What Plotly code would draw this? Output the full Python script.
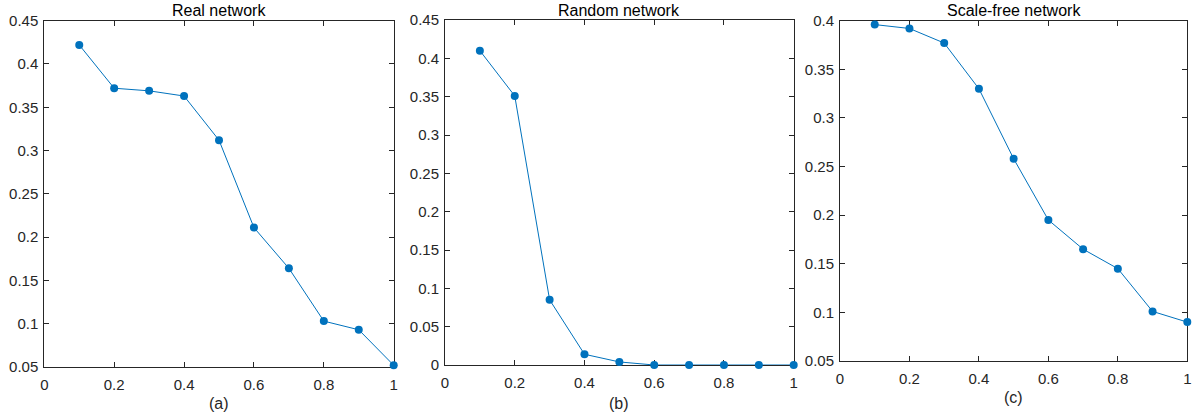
import plotly.graph_objects as go

x_vals = [0.1, 0.2, 0.3, 0.4, 0.5, 0.6, 0.7, 0.8, 0.9, 1.0]
real_vals = [0.422, 0.372, 0.369, 0.363, 0.312, 0.211, 0.164, 0.103, 0.093, 0.052]
random_vals = [0.410, 0.351, 0.085, 0.014, 0.004, 0.0, 0.0, 0.0, 0.0, 0.0]
scalefree_vals = [0.396, 0.392, 0.377, 0.330, 0.258, 0.195, 0.165, 0.145, 0.101, 0.090]

titles = ["Real network", "Random network", "Scale-free network"]
sublabels = ["(a)", "(b)", "(c)"]
y_ranges = [[0.05, 0.45], [0, 0.45], [0.05, 0.4]]
x_ticks = [0, 0.2, 0.4, 0.6, 0.8, 1]
x_ticklabels = ["0", "0.2", "0.4", "0.6", "0.8", "1"]

W, H = 1200, 418
# pixel boxes (left, right, top, bottom)
boxes = [(44.3, 393.7, 20.7, 367.0), (445.0, 793.7, 20.0, 365.0), (840.0, 1187.3, 20.7, 361.0)]
label_y = [403, 403, 397]

color = "#0072BD"
axcol = "#262626"
font = "Liberation Sans, Arial, Helvetica, sans-serif"

fig = go.Figure()
series = [real_vals, random_vals, scalefree_vals]
annotations = []
for i, (vals, box) in enumerate(zip(series, boxes)):
    l, r, t, b = box
    xa = "x" if i == 0 else f"x{i+1}"
    ya = "y" if i == 0 else f"y{i+1}"
    fig.add_trace(go.Scatter(x=x_vals, y=vals, mode="lines+markers",
                             line=dict(color=color, width=1),
                             marker=dict(color=color, size=8),
                             cliponaxis=False, showlegend=False,
                             xaxis=xa, yaxis=ya))
    xkey = "xaxis" if i == 0 else f"xaxis{i+1}"
    ykey = "yaxis" if i == 0 else f"yaxis{i+1}"
    common = dict(showgrid=False, zeroline=False, showline=True, linecolor=axcol,
                  linewidth=1, mirror="ticks", ticks="inside", ticklen=5,
                  tickcolor=axcol, tickwidth=1, automargin=False, layer="below traces",
                  tickfont=dict(family=font, size=15, color=axcol))
    fig.update_layout(**{
        xkey: dict(domain=[l / W, r / W], range=[0, 1], anchor=ya,
                   tickvals=x_ticks, ticktext=x_ticklabels, ticklabelstandoff=4, **common),
        ykey: dict(domain=[1 - b / H, 1 - t / H], range=y_ranges[i], anchor=xa,
                   dtick=0.05, tick0=0, ticklabelstandoff=2, **common),
    })
    cx = (l + r) / 2 / W
    annotations.append(dict(text=titles[i], x=cx, y=1 - 10 / H, xref="paper", yref="paper",
                            showarrow=False, xanchor="center", yanchor="middle",
                            font=dict(family=font, size=16, color="#000000")))
    annotations.append(dict(text=sublabels[i], x=cx, y=1 - label_y[i] / H, xref="paper", yref="paper",
                            showarrow=False, xanchor="center", yanchor="middle",
                            font=dict(family=font, size=16, color=axcol)))

fig.update_layout(width=W, height=H, margin=dict(l=0, r=0, t=0, b=0, autoexpand=False),
                  paper_bgcolor="white", plot_bgcolor="white",
                  annotations=annotations)

fig.write_html("out.html")
